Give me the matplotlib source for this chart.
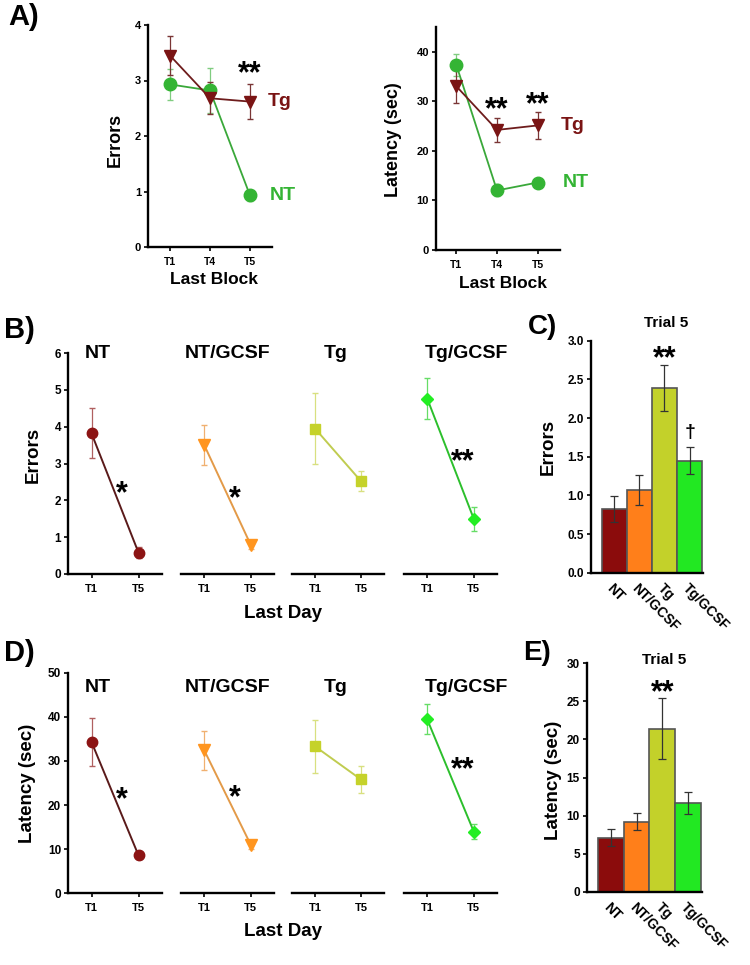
import matplotlib
matplotlib.use('Agg')
import matplotlib.pyplot as plt
import numpy as np

plt.rcParams['font.family'] = ['Liberation Sans', 'DejaVu Sans']
plt.rcParams['font.weight'] = 'bold'
plt.rcParams['axes.linewidth'] = 1.7

# ---------------- data ----------------
a_trials = ['T1', 'T4', 'T5']
a_err_tg = [3.45, 2.68, 2.62]
a_err_tg_se = [0.35, 0.29, 0.32]
a_err_nt = [2.93, 2.82, 0.93]
a_err_nt_se = [0.28, 0.40, 0.10]
a_lat_tg = [33.0, 24.2, 25.1]
a_lat_tg_se = [3.3, 2.5, 2.8]
a_lat_nt = [37.3, 12.0, 13.6]
a_lat_nt_se = [2.2, 1.2, 0.5]

groups = ['NT', 'NT/GCSF', 'Tg', 'Tg/GCSF']
day_trials = ['T1', 'T5']
b_err = [[3.82, 0.58], [3.50, 0.79], [3.95, 2.52], [4.76, 1.50]]
b_err_se = [[0.68, 0.15], [0.55, 0.12], [0.96, 0.28], [0.55, 0.32]]
d_lat = [[34.3, 8.6], [32.4, 11.0], [33.3, 25.8], [39.4, 14.0]]
d_lat_se = [[5.5, 0.8], [4.4, 1.0], [6.0, 3.0], [3.4, 1.7]]
c_err = [0.82, 1.07, 2.39, 1.45]
c_err_se = [0.17, 0.19, 0.30, 0.17]
e_lat = [7.1, 9.2, 21.4, 11.7]
e_lat_se = [1.15, 1.1, 4.0, 1.45]

# ---------------- styles ----------------
nt_mk, nt_line, nt_ecol = '#34b434', '#3aa83a', '#80cc80'
tg_mk, tg_line, tg_ecol = '#7a1414', '#6e1c1c', '#7a3535'
g_mk = ['#8c1414', '#ff951f', '#c5d22a', '#22ee22']
g_line = ['#5a1a1a', '#e39a48', '#c0cc50', '#2cbf2c']
g_ecol = ['#b06060', '#f0b070', '#d8e080', '#66dd66']
g_marker = ['o', 'v', 's', 'D']
g_ms = [7.5, 8, 7, 6.5]
bar_col = ['#8b0c0c', '#ff7f1a', '#c3d12a', '#22e822']

W, H = 750, 965
fig = plt.figure(figsize=(7.5, 9.65), dpi=100)


def rect(x0, y0, x1, y1):
    return [x0 / W, 1 - y1 / H, (x1 - x0) / W, (y1 - y0) / H]


def ftext(x, y, s, **kw):
    kw.setdefault('fontweight', 'bold')
    fig.text(x / W, 1 - y / H, s, **kw)


def star(ax, x, y, s, size=22, **kw):
    ax.annotate(s, xy=(x, y), xytext=(0, -0.58 * size), textcoords='offset points',
                ha='center', va='baseline', fontsize=size, fontweight='bold',
                annotation_clip=False, **kw)


def style(ax, left=True, lsize=8.5, xsize=8.5):
    for s in ['top', 'right']:
        ax.spines[s].set_visible(False)
    if not left:
        ax.spines['left'].set_visible(False)
        ax.tick_params(axis='y', left=False, labelleft=False)
    ax.tick_params(direction='out', length=3, width=1.2)
    ax.tick_params(axis='y', labelsize=lsize, pad=2)
    ax.tick_params(axis='x', labelsize=xsize, pad=4)


# ---------------- Panel A ----------------
xa = np.arange(1, len(a_trials) + 1)
axA1 = fig.add_axes(rect(148, 25, 272, 247))
axA1.errorbar(xa, a_err_nt, yerr=a_err_nt_se, color=nt_line, marker='o', ms=9,
              mfc=nt_mk, mec=nt_mk, ecolor=nt_ecol, elinewidth=0.9, capsize=2.5, lw=1.3)
axA1.errorbar(xa, a_err_tg, yerr=a_err_tg_se, color=tg_line, marker='v', ms=8.5,
              mfc=tg_mk, mec=tg_mk, ecolor=tg_ecol, elinewidth=0.9, capsize=2.5, lw=1.3)
axA1.set_xlim(0.45, 3.55)
axA1.set_ylim(0, 4)
axA1.set_yticks([0, 1, 2, 3, 4])
axA1.set_xticks(xa)
axA1.set_xticklabels(a_trials)
style(axA1, lsize=8, xsize=7.5)
star(axA1, 3, 3.28, '**')
axA1.text(3.45, 2.62, 'Tg', color=tg_mk, fontsize=14, fontweight='bold', va='center', ha='left')
axA1.text(3.5, 0.93, 'NT', color=nt_mk, fontsize=14, fontweight='bold', va='center', ha='left')

axA2 = fig.add_axes(rect(436, 26.7, 560, 250))
axA2.errorbar(xa, a_lat_nt, yerr=a_lat_nt_se, color=nt_line, marker='o', ms=9,
              mfc=nt_mk, mec=nt_mk, ecolor=nt_ecol, elinewidth=0.9, capsize=2.5, lw=1.3)
axA2.errorbar(xa, a_lat_tg, yerr=a_lat_tg_se, color=tg_line, marker='v', ms=8.5,
              mfc=tg_mk, mec=tg_mk, ecolor=tg_ecol, elinewidth=0.9, capsize=2.5, lw=1.3)
axA2.set_xlim(0.5, 3.55)
axA2.set_ylim(0, 45)
axA2.set_yticks([0, 10, 20, 30, 40])
axA2.set_xticks(xa)
axA2.set_xticklabels(a_trials)
style(axA2, lsize=8, xsize=7.5)
star(axA2, 2, 30.2, '**')
star(axA2, 3, 31.2, '**')
axA2.text(3.57, 25.0, 'Tg', color=tg_mk, fontsize=14, fontweight='bold', va='center', ha='left')
axA2.text(3.62, 13.7, 'NT', color=nt_mk, fontsize=14, fontweight='bold', va='center', ha='left')

ftext(8, 17, 'A)', fontsize=21, va='center', ha='left')
ftext(115, 140, 'Errors', fontsize=13, rotation=90, va='center', ha='center')
ftext(393, 140, 'Latency (sec)', fontsize=13, rotation=90, va='center', ha='center')
ftext(214, 280, 'Last Block', fontsize=12.5, va='center', ha='center')
ftext(503, 283, 'Last Block', fontsize=12.5, va='center', ha='center')

# ---------------- Panels B & D ----------------
sub_x = [(68, 162), (181, 274), (292, 384), (404, 497)]
title_x = [1.14, 1.5, 1.45, 1.85]
xd = np.arange(1, len(day_trials) + 1)


def line_panel(ytop, ybot, vals, ses, ylim, yticks, stars, title_y):
    axes = []
    for i, (x0, x1) in enumerate(sub_x):
        ax = fig.add_axes(rect(x0, ytop, x1, ybot))
        ax.errorbar(xd, vals[i], yerr=ses[i], color=g_line[i], marker=g_marker[i],
                    ms=g_ms[i], mfc=g_mk[i], mec=g_mk[i], ecolor=g_ecol[i],
                    elinewidth=0.9, capsize=2.5, lw=1.4)
        ax.set_xlim(0.5, 2.5)
        ax.set_ylim(*ylim)
        ax.set_yticks(yticks)
        ax.set_xticks(xd)
        ax.set_xticklabels(day_trials)
        style(ax, left=(i == 0), lsize=8.5, xsize=8)
        ax.text(title_x[i], title_y, groups[i], transform=ax.get_xaxis_transform(),
                fontsize=14, fontweight='bold', ha='center', va='center')
        for (gi, sx, sy, s) in stars:
            if gi == i:
                star(ax, sx, sy, s)
        axes.append(ax)
    return axes


line_panel(353, 574, b_err, b_err_se, (0, 6), [0, 1, 2, 3, 4, 5, 6],
           [(0, 1.65, 2.42, '*'), (1, 1.66, 2.29, '*'), (3, 1.77, 3.3, '**')], 1.0)
line_panel(672.7, 893.3, d_lat, d_lat_se, (0, 50), [0, 10, 20, 30, 40, 50],
           [(0, 1.65, 23.4, '*'), (1, 1.66, 23.7, '*'), (3, 1.77, 30.2, '**')], 0.935)

ftext(4, 330, 'B)', fontsize=21, va='center', ha='left')
ftext(4, 653, 'D)', fontsize=21, va='center', ha='left')
ftext(33, 455, 'Errors', fontsize=13.5, rotation=90, va='center', ha='center')
ftext(28, 783, 'Latency (sec)', fontsize=13.5, rotation=90, va='center', ha='center')
ftext(283, 613, 'Last Day', fontsize=13.5, va='center', ha='center')
ftext(283, 932, 'Last Day', fontsize=13.5, va='center', ha='center')


# ---------------- Panels C & E ----------------
def bar_panel(r, vals, ses, ylim, yticks, fmt, star_y, title_y, extra=None):
    ax = fig.add_axes(r)
    xb = np.arange(len(groups))
    ax.bar(xb, vals, width=1.0, color=bar_col, edgecolor='#555555', linewidth=1.2, zorder=2)
    ax.errorbar(xb, vals, yerr=ses, fmt='none', ecolor='#333333', elinewidth=0.9,
                capsize=3, capthick=0.9, zorder=3)
    ax.set_xlim(-0.93, 3.52)
    ax.set_ylim(*ylim)
    ax.set_yticks(yticks)
    ax.set_yticklabels([fmt.format(v) for v in yticks])
    ax.set_xticks(xb)
    ax.set_xticklabels(groups, rotation=-45, ha='left', va='top', rotation_mode='anchor')
    style(ax, lsize=8.5, xsize=10)
    ax.tick_params(axis='x', length=0, pad=6)
    for lab in ax.get_xticklabels():
        lab.set_fontweight('bold')
    star(ax, 2, star_y, '**')
    ax.text(2.05, title_y, 'Trial 5', fontsize=11, fontweight='bold', ha='center', va='center')
    if extra:
        ax.text(*extra, '\u2020', fontsize=14, fontweight='bold', ha='center', va='center')
    return ax


bar_panel(rect(590.7, 340.7, 702.7, 572.7), c_err, c_err_se, (0, 3.0),
          [0.0, 0.5, 1.0, 1.5, 2.0, 2.5, 3.0], '{:.1f}', 2.88, 3.23, (3, 1.81))
bar_panel(rect(586.7, 663.3, 701.7, 891.7), e_lat, e_lat_se, (0, 30),
          [0, 5, 10, 15, 20, 25, 30], '{:d}', 27.4, 30.4)

ftext(528, 327, 'C)', fontsize=20, va='center', ha='left')
ftext(523, 653, 'E)', fontsize=20, va='center', ha='left')
ftext(548, 447, 'Errors', fontsize=13.5, rotation=90, va='center', ha='center')
ftext(553, 780, 'Latency (sec)', fontsize=13.5, rotation=90, va='center', ha='center')

fig.savefig('out.png', dpi=100)
